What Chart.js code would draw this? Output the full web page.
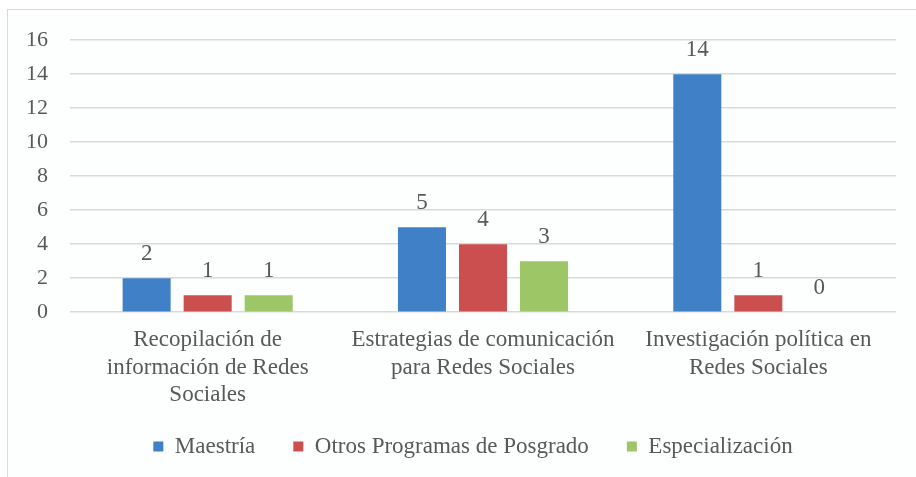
<!DOCTYPE html>
<html><head><meta charset="utf-8">
<script src="https://cdn.jsdelivr.net/npm/chart.js@4/dist/chart.umd.min.js"></script>
<style>
html,body{margin:0;padding:0;background:#fff;overflow:hidden;}
#box{position:absolute;left:7px;top:9px;width:930px;height:490px;border:1px solid #d9d9d9;background:#fdfefe;box-sizing:border-box;}
#wrap{position:absolute;left:0;top:-5px;width:909px;height:468px;}
</style></head>
<body>
<div id="box"><div id="wrap"><canvas id="c"></canvas></div></div>
<script>
const categories = [
  ["Recopilación de", "información de Redes", "Sociales"],
  ["Estrategias de comunicación", "para Redes Sociales"],
  ["Investigación política en", "Redes Sociales"]
];
const seriesNames = ["Maestría", "Otros Programas de Posgrado", "Especialización"];
const maestria = [2, 5, 14];
const otros = [1, 4, 1];
const especializacion = [1, 3, 0];
const yTicks = [0, 2, 4, 6, 8, 10, 12, 14, 16];

const colors = ["#3f80c6", "#cb4f4e", "#9dc766"];
const textColor = "#595959";
const fontFamily = "Liberation Serif";
Chart.defaults.font.family = fontFamily;
Chart.defaults.color = textColor;

const valueLabels = {
  id: 'valueLabels',
  afterDatasetsDraw(chart) {
    const ctx = chart.ctx;
    ctx.save();
    ctx.fillStyle = textColor;
    ctx.font = "23px " + fontFamily;
    ctx.textAlign = "center";
    ctx.textBaseline = "alphabetic";
    chart.data.datasets.forEach((ds, i) => {
      const meta = chart.getDatasetMeta(i);
      meta.data.forEach((bar, j) => {
        ctx.fillText(String(ds.data[j]), bar.x, bar.y - 18);
      });
    });
    ctx.restore();
  }
};

// nudge the legend block to the reference position
const legendShift = { dx: 23, dy: -18 };
const legendNudge = {
  id: 'legendNudge',
  afterLayout(chart) {
    const lg = chart.legend;
    if (!lg) return;
    lg.left += legendShift.dx; lg.right += legendShift.dx;
    lg.top += legendShift.dy; lg.bottom += legendShift.dy;
  }
};

new Chart(document.getElementById('c'), {
  type: 'bar',
  data: {
    labels: categories,
    datasets: [
      { label: seriesNames[0], data: maestria, backgroundColor: colors[0] },
      { label: seriesNames[1], data: otros, backgroundColor: colors[1] },
      { label: seriesNames[2], data: especializacion, backgroundColor: colors[2] }
    ]
  },
  options: {
    responsive: true,
    maintainAspectRatio: false,
    animation: false,
    categoryPercentage: 0.665,
    barPercentage: 0.787,
    layout: { padding: { top: 10, right: 21, left: -4, bottom: -13 } },
    scales: {
      x: {
        grid: { display: false },
        border: { display: false },
        ticks: { color: textColor, font: { family: fontFamily, size: 23, lineHeight: 1.2 }, maxRotation: 0, padding: 6 }
      },
      y: {
        min: 0, max: 16,
        afterBuildTicks(axis) { axis.ticks = yTicks.map(v => ({ value: v })); },
        grid: { color: "#d9d9d9", lineWidth: 1.5, drawTicks: false },
        border: { display: false },
        ticks: { color: textColor, font: { family: fontFamily, size: 22 }, padding: 22 }
      }
    },
    plugins: {
      legend: {
        position: 'bottom',
        labels: { color: textColor, font: { family: fontFamily, size: 23 }, boxWidth: 10, boxHeight: 10, padding: 38 }
      },
      tooltip: { enabled: false }
    }
  },
  plugins: [valueLabels, legendNudge]
});
</script>
</body></html>
